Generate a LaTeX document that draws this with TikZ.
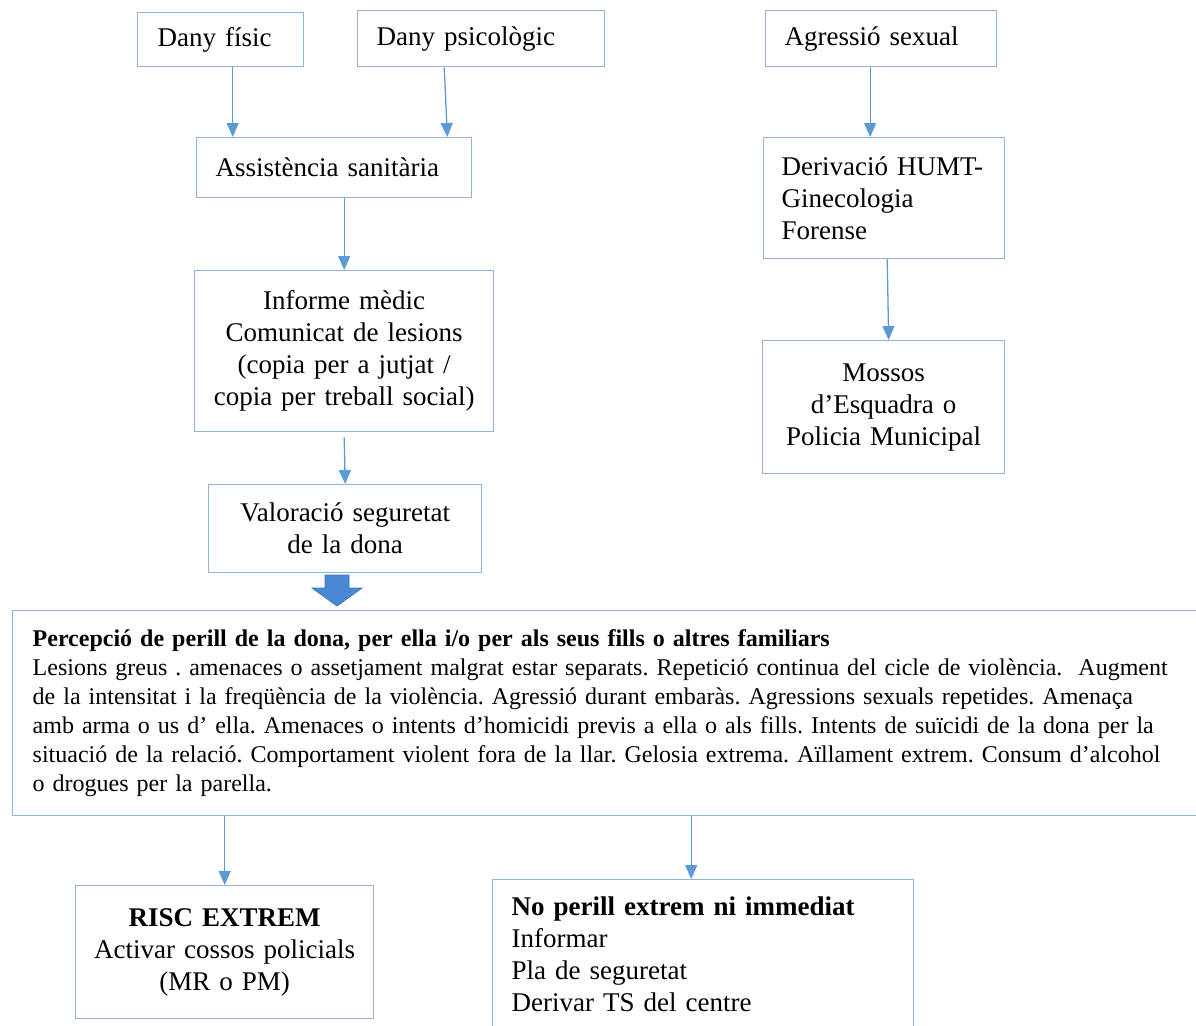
\documentclass[tikz,border=0pt]{standalone}
\usepackage{fontspec}
\setmainfont{Liberation Serif}
\usetikzlibrary{arrows.meta}
\definecolor{linec}{HTML}{5B9BD5}
\definecolor{boxc}{HTML}{8FB4DE}
\definecolor{fillc}{HTML}{4A89D1}
\definecolor{fillb}{HTML}{3C74B5}
\frenchspacing
\begin{document}
\begin{tikzpicture}[x=1pt,y=-1pt,
  box/.style={draw=boxc, line width=1.4pt, inner sep=0pt, anchor=north west,
    font=\fontsize{27}{32}\selectfont},
  bigtext/.style={font=\fontsize{24}{29}\selectfont},
  conn/.style={draw=linec, line width=1.3pt, -{Triangle[length=14pt,width=12pt]}},
  blockarrow/.style={fill=fillc, draw=fillb, line width=0.8pt}]
\useasboundingbox (0,0) rectangle (1196,1025);

\node[box, minimum width=166pt, minimum height=54pt, text width=126pt, inner xsep=20pt, align=left] (dfis) at (137,12) {Dany físic};
\node[box, minimum width=247pt, minimum height=56pt, text width=209pt, inner xsep=19pt, align=left] (dpsi) at (357,10) {Dany psicològic};
\node[box, minimum width=231pt, minimum height=56pt, text width=193pt, inner xsep=19pt, align=left] (agr) at (765,10) {Agressió sexual};
\node[box, minimum width=275pt, minimum height=60pt, text width=237pt, inner xsep=19pt, align=left] (asis) at (196,137) {Assistència sanitària};
\node[box, minimum width=299pt, minimum height=161pt, text width=290pt, align=center] (inf) at (194,270) {Informe mèdic\\Comunicat de lesions\\(copia per a jutjat /\\copia per treball social)};
\node[box, minimum width=273pt, minimum height=88pt, text width=263pt, align=center] (val) at (208,484) {Valoració seguretat\\de la dona};
\node[box, minimum width=241pt, minimum height=121pt, text width=205pt, inner xsep=18pt, align=left] (der) at (763,137) {Derivació HUMT-\\Ginecologia\\Forense};
\node[box, minimum width=242pt, minimum height=133pt, text width=232pt, align=center] (mos) at (762,340) {Mossos\\d’Esquadra o\\Policia Municipal};
\node[box, bigtext, minimum width=1200pt, minimum height=205pt, text width=1160pt, inner xsep=20pt, align=left] (big) at (12,610) {\mbox{\textbf{Percepció de perill de la dona, per ella i/o per als seus fills o altres familiars}}\\
\mbox{Lesions greus . amenaces o assetjament malgrat estar separats. Repetició continua del cicle de violència.\ \ Augment}\\
\mbox{de la intensitat i la freqüència de la violència. Agressió durant embaràs. Agressions sexuals repetides. Amenaça}\\
\mbox{amb arma o us d’ ella. Amenaces o intents d’homicidi previs a ella o als fills. Intents de suïcidi de la dona per la}\\
\mbox{situació de la relació. Comportament violent fora de la llar. Gelosia extrema. Aïllament extrem. Consum d’alcohol}\\
\mbox{o drogues per la parella.}};
\node[box, minimum width=298pt, minimum height=133pt, text width=288pt, align=center] (risc) at (75,885) {\textbf{RISC EXTREM}\\Activar cossos policials\\(MR o PM)};
\node[box, minimum width=421pt, minimum height=150pt, text width=383pt, inner xsep=19pt, align=left] (nop) at (492,879) {\textbf{No perill extrem ni immediat}\\Informar\\Pla de seguretat\\Derivar TS del centre};

\draw[conn] ([xshift=12pt]dfis.south) -- ([xshift=12pt]dfis.south |- asis.north);
\draw[conn] ([xshift=-37pt]dpsi.south) -- ([xshift=-25pt]asis.north east);
\draw[conn] (asis.south -| inf.north) -- (inf.north);
\draw[conn] ([yshift=-5pt]inf.south) -- (val.north);
\draw[conn] ([xshift=-11pt]agr.south) -- ([xshift=-14pt]der.north);
\draw[conn] ([xshift=3pt]der.south) -- ([xshift=5pt]mos.north);
\draw[conn] (big.south -| risc.north) -- (risc.north);
\draw[conn] ([xshift=-12pt]nop.north |- big.south) -- ([xshift=-12pt]nop.north);

\coordinate (ba) at (337,575);
\filldraw[blockarrow] (ba) ++(-12,0) -- ++(24,0) -- ++(0,13) -- ++(13,0) -- ++(-25,18) -- ++(-25,-18) -- ++(13,0) -- cycle;
\end{tikzpicture}
\end{document}
